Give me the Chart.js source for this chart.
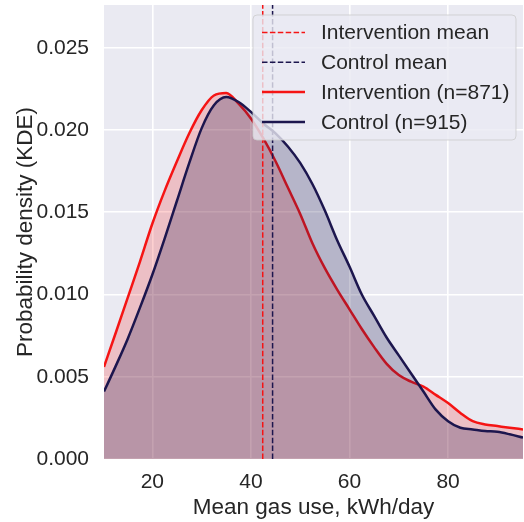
<!DOCTYPE html>
<html>
<head>
<meta charset="utf-8">
<script src="https://cdn.jsdelivr.net/npm/chart.js@4.4.1/dist/chart.umd.min.js"></script>
<style>
  html, body { margin: 0; padding: 0; background: #fff; }
  #wrap { width: 524px; height: 522px; position: relative; }
</style>
</head>
<body>
<div id="wrap"><canvas id="chart"></canvas></div>
<script>
// KDE curves
const gasUse = [10.2, 12.5, 15, 17.5, 20, 22.5, 25, 27.5, 30, 32.5, 35, 37.5, 40, 42.5, 45, 47.5,
  50, 52.5, 55, 57.5, 60, 62.5, 65, 67.5, 70, 72.5, 75, 77.5, 80, 82.5, 85, 87.5, 90, 92.5, 95.2];
const interventionDensity = [0.0056, 0.0076, 0.0098, 0.0120, 0.0143, 0.0163, 0.0181, 0.0198, 0.0212,
  0.0221, 0.02225, 0.0216, 0.0207, 0.0195, 0.0181, 0.0165, 0.0149, 0.0131, 0.0116, 0.0103, 0.0091,
  0.0079, 0.0068, 0.0058, 0.0051, 0.0047, 0.0044, 0.0039, 0.0034, 0.0028, 0.0023, 0.0021, 0.0020,
  0.0019, 0.0018];
const controlDensity = [0.0041, 0.0056, 0.0073, 0.0092, 0.0112, 0.0134, 0.0157, 0.0180, 0.0201,
  0.0215, 0.0220, 0.0217, 0.0211, 0.0204, 0.0198, 0.0190, 0.0180, 0.0167, 0.0151, 0.0133, 0.0117,
  0.0100, 0.0087, 0.0074, 0.0063, 0.0052, 0.0041, 0.0030, 0.0023, 0.0019, 0.0018, 0.0017, 0.00165,
  0.0015, 0.0013];
const interventionMean = 42.4;
const controlMean = 44.4;

const xRange = [10.2, 95.2];
const yRange = [0, 0.0276];
const xTicks = [20, 40, 60, 80];
const yTicks = [0, 0.005, 0.01, 0.015, 0.02, 0.025];

const legendLabels = ['Intervention mean', 'Control mean', 'Intervention (n=871)', 'Control (n=915)'];

const RED = 'rgb(245,20,20)';
const NAVY = 'rgb(28,22,78)';
const TEXT = '#262626';
const FONT = 'Liberation Sans, Arial, sans-serif';
const DASH = [5.5, 2.4];

const toPoints = (ys) => ys.map((y, i) => ({ x: gasUse[i], y }));
const meanLine = (x) => [{ x, y: yRange[0] }, { x, y: yRange[1] }];

// seaborn-ish grey panel behind the plot
const panelBackground = {
  id: 'panelBackground',
  beforeDraw(chart) {
    const { ctx, chartArea: a } = chart;
    ctx.save();
    ctx.fillStyle = '#EAEAF2';
    ctx.fillRect(a.left, a.top, a.right - a.left, a.bottom - a.top);
    ctx.restore();
  },
};

// matplotlib-like legend: translucent box drawn over the curves
const boxLegend = {
  id: 'boxLegend',
  afterDraw(chart) {
    const { ctx, chartArea: a } = chart;
    const styles = [
      { color: RED, dash: DASH, width: 1.5 },
      { color: NAVY, dash: DASH, width: 1.5 },
      { color: RED, dash: [], width: 2.5 },
      { color: NAVY, dash: [], width: 2.5 },
    ];
    const boxW = 263;
    const boxH = 125;
    const bx = a.right - 7 - boxW;
    const by = a.top + 10;
    ctx.save();
    ctx.beginPath();
    ctx.roundRect(bx, by, boxW, boxH, 4);
    ctx.fillStyle = 'rgba(234,234,242,0.8)';
    ctx.fill();
    ctx.strokeStyle = 'rgba(204,204,204,0.8)';
    ctx.lineWidth = 1;
    ctx.stroke();

    ctx.font = `21px ${FONT}`;
    ctx.textBaseline = 'middle';
    ctx.fillStyle = TEXT;
    legendLabels.forEach((label, i) => {
      const y = by + 17.5 + i * 29.8;
      const s = styles[i];
      ctx.beginPath();
      ctx.setLineDash(s.dash);
      ctx.strokeStyle = s.color;
      ctx.lineWidth = s.width;
      ctx.moveTo(bx + 9, y);
      ctx.lineTo(bx + 52, y);
      ctx.stroke();
      ctx.setLineDash([]);
      ctx.fillText(label, bx + 68, y + 1);
    });
    ctx.restore();
  },
};

new Chart(document.getElementById('chart'), {
  type: 'line',
  data: {
    datasets: [
      {
        label: legendLabels[0],
        data: meanLine(interventionMean),
        borderColor: RED,
        borderWidth: 1.5,
        borderDash: DASH,
        pointRadius: 0,
        fill: false,
        order: 0,
      },
      {
        label: legendLabels[1],
        data: meanLine(controlMean),
        borderColor: NAVY,
        borderWidth: 1.5,
        borderDash: DASH,
        pointRadius: 0,
        fill: false,
        order: 0,
      },
      {
        label: legendLabels[3],
        data: toPoints(controlDensity),
        borderColor: NAVY,
        backgroundColor: 'rgba(28,22,78,0.25)',
        borderWidth: 2.5,
        pointRadius: 0,
        cubicInterpolationMode: 'monotone',
        fill: 'origin',
        order: 1,
      },
      {
        label: legendLabels[2],
        data: toPoints(interventionDensity),
        borderColor: RED,
        backgroundColor: 'rgba(245,20,20,0.2)',
        borderWidth: 2.5,
        pointRadius: 0,
        cubicInterpolationMode: 'monotone',
        fill: 'origin',
        order: 2,
      },
    ],
  },
  options: {
    responsive: true,
    maintainAspectRatio: false,
    animation: false,
    devicePixelRatio: 1,
    layout: { padding: { top: 5, right: 1, left: 0, bottom: 0 } },
    plugins: {
      legend: { display: false },
      tooltip: { enabled: false },
    },
    scales: {
      x: {
        type: 'linear',
        min: xRange[0],
        max: xRange[1],
        afterBuildTicks: (scale) => { scale.ticks = xTicks.map((value) => ({ value })); },
        afterFit: (scale) => {
          scale.height = 63;
          scale.paddingLeft = 0;
          scale.paddingRight = 0;
        },
        border: { display: false },
        grid: { color: '#ffffff', lineWidth: 1.6, drawTicks: false },
        ticks: {
          color: TEXT,
          font: { family: FONT, size: 21 },
          padding: 11,
          maxRotation: 0,
          callback: (v) => String(v),
        },
        title: {
          display: true,
          text: 'Mean gas use, kWh/day',
          color: TEXT,
          font: { family: FONT, size: 22.5 },
          padding: { top: 0, bottom: 0.5 },
        },
      },
      y: {
        type: 'linear',
        min: yRange[0],
        max: yRange[1],
        afterBuildTicks: (scale) => { scale.ticks = yTicks.map((value) => ({ value })); },
        afterFit: (scale) => {
          scale.width = 104;
          scale.paddingTop = 0;
          scale.paddingBottom = 0;
        },
        border: { display: false },
        grid: { color: '#ffffff', lineWidth: 1.6, drawTicks: false },
        ticks: {
          color: TEXT,
          font: { family: FONT, size: 21 },
          padding: 15,
          callback: (v) => v.toFixed(3),
        },
        title: {
          display: true,
          text: 'Probability density (KDE)',
          color: TEXT,
          font: { family: FONT, size: 22.5 },
          padding: { top: 12.5, bottom: 0 },
        },
      },
    },
  },
  plugins: [panelBackground, boxLegend],
});
</script>
</body>
</html>
